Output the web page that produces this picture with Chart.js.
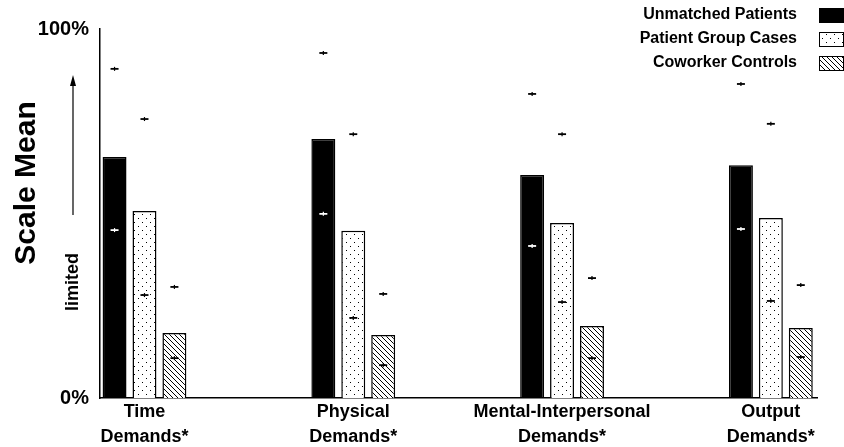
<!DOCTYPE html>
<html>
<head>
<meta charset="utf-8">
<title>Scale Mean by demand type</title>
<script src="https://cdn.jsdelivr.net/npm/chart.js@4.4.1/dist/chart.umd.min.js"></script>
<style>
  html, body { margin: 0; padding: 0; background: #fff; }
  #chart { display: block; }
</style>
</head>
<body>
<canvas id="chart" width="844" height="447"></canvas>
<script>
// categories (two lines each) and the series shown in the legend
const categories = [
  ['Time', 'Demands*'],
  ['Physical', 'Demands*'],
  ['Mental-Interpersonal', 'Demands*'],
  ['Output', 'Demands*']
];
const seriesNames = ['Unmatched Patients', 'Patient Group Cases', 'Coworker Controls'];

// bar heights (% of scale)
const unmatched = [65.3, 70.2, 60.4, 63.1];
const groupCases = [50.7, 45.3, 47.4, 48.8];
const controls = [17.6, 17.1, 19.5, 19.0];

// small marks above / below each bar
const unmatchedHigh = [89.2, 93.5, 82.4, 85.1];
const unmatchedLow = [45.5, 49.9, 41.2, 45.8];
const casesHigh = [75.6, 71.5, 71.5, 74.3];
const casesLow = [27.9, 21.7, 26.0, 26.3];
const controlsHigh = [30.1, 28.2, 32.5, 30.6];
const controlsLow = [10.8, 8.9, 10.8, 11.1];

const yTicks = [0, 100];

const FONT = '"Liberation Sans", Arial, Helvetica, sans-serif';
Chart.defaults.font.family = FONT;
Chart.defaults.color = '#000';

// fill patterns
function dotPattern() {
  const c = document.createElement('canvas');
  c.width = 8; c.height = 8;
  const g = c.getContext('2d');
  g.fillStyle = '#fff';
  g.fillRect(0, 0, 8, 8);
  g.fillStyle = '#000';
  g.fillRect(2, 2, 1, 1);
  g.fillRect(6, 6, 1, 1);
  return g.createPattern(c, 'repeat');
}

function hatchPattern() {
  const c = document.createElement('canvas');
  c.width = 5; c.height = 5;
  const g = c.getContext('2d');
  g.fillStyle = '#fff';
  g.fillRect(0, 0, 5, 5);
  g.strokeStyle = '#000';
  g.lineWidth = 1;
  g.beginPath();
  g.moveTo(-1, -1); g.lineTo(6, 6);
  g.moveTo(-1, 4); g.lineTo(1, 6);
  g.moveTo(4, -1); g.lineTo(6, 1);
  g.stroke();
  return g.createPattern(c, 'repeat');
}

const toPoints = arr => arr.map((v, i) => ({ x: i, y: v }));

// draws the little "+" marks at each bar's x position
const errorMarks = {
  id: 'errorMarks',
  afterDatasetsDraw(chart) {
    const ctx = chart.ctx;
    const yScale = chart.scales.y;
    chart.data.datasets.forEach((ds, i) => {
      const meta = chart.getDatasetMeta(i);
      meta.data.forEach((bar, j) => {
        [ds.markHigh[j], ds.markLow[j]].forEach(v => {
          const y = yScale.getPixelForValue(v);
          const inside = v < ds.data[j].y;
          ctx.save();
          ctx.strokeStyle = inside ? ds.markInside : '#000';
          ctx.lineWidth = 1.8;
          ctx.beginPath();
          ctx.moveTo(bar.x - 4, y);
          ctx.lineTo(bar.x + 4, y);
          ctx.stroke();
          ctx.lineWidth = 1.2;
          ctx.beginPath();
          ctx.moveTo(bar.x, y - 2);
          ctx.lineTo(bar.x, y + 2);
          ctx.stroke();
          ctx.restore();
        });
      });
    });
  }
};

// legend on the top right: text then swatch
const sideLegend = {
  id: 'sideLegend',
  afterDraw(chart) {
    const ctx = chart.ctx;
    ctx.save();
    ctx.font = 'bold 16px ' + FONT;
    ctx.textAlign = 'right';
    ctx.textBaseline = 'middle';
    chart.data.datasets.forEach((ds, i) => {
      const y = 15 + i * 24;
      ctx.fillStyle = '#000';
      ctx.fillText(ds.label, 797, y);
      ctx.fillStyle = ds.backgroundColor;
      ctx.fillRect(819, y - 7, 25, 15);
      ctx.strokeStyle = '#000';
      ctx.lineWidth = 1;
      ctx.strokeRect(819.5, y - 6.5, 24, 14);
    });
    ctx.restore();
  }
};

// y axis title, arrow and "limited"
const yNotes = {
  id: 'yNotes',
  afterDraw(chart) {
    const ctx = chart.ctx;
    ctx.save();
    ctx.fillStyle = '#000';
    ctx.strokeStyle = '#000';
    ctx.textAlign = 'center';
    ctx.textBaseline = 'middle';

    ctx.save();
    ctx.translate(27, 183);
    ctx.rotate(-Math.PI / 2);
    ctx.font = 'bold 30px ' + FONT;
    ctx.fillText('Scale Mean', 0, 0);
    ctx.restore();

    ctx.save();
    ctx.translate(73, 282);
    ctx.rotate(-Math.PI / 2);
    ctx.font = 'bold 18px ' + FONT;
    ctx.fillText('limited', 0, 0);
    ctx.restore();

    ctx.lineWidth = 1.2;
    ctx.beginPath();
    ctx.moveTo(73, 215);
    ctx.lineTo(73, 84);
    ctx.stroke();
    ctx.beginPath();
    ctx.moveTo(73, 75);
    ctx.lineTo(70, 86);
    ctx.lineTo(76, 86);
    ctx.closePath();
    ctx.fill();
    ctx.restore();
  }
};

const fills = ['#000', dotPattern(), hatchPattern()];
const values = [unmatched, groupCases, controls];
const highs = [unmatchedHigh, casesHigh, controlsHigh];
const lows = [unmatchedLow, casesLow, controlsLow];
const insideColors = ['#fff', '#000', '#000'];

const datasets = seriesNames.map((name, i) => ({
  label: name,
  data: toPoints(values[i]),
  backgroundColor: fills[i],
  borderColor: '#000',
  borderWidth: 1.5,
  categoryPercentage: 0.43,
  barPercentage: 0.8,
  markHigh: highs[i],
  markLow: lows[i],
  markInside: insideColors[i]
}));

new Chart(document.getElementById('chart'), {
  type: 'bar',
  data: { datasets },
  options: {
    responsive: false,
    animation: false,
    devicePixelRatio: 1,
    layout: { padding: { top: 29, right: 27, left: 0, bottom: 0 } },
    plugins: {
      legend: { display: false },
      tooltip: { enabled: false }
    },
    scales: {
      x: {
        type: 'linear',
        offset: false,
        min: -0.213,
        max: 3.221,
        afterBuildTicks: axis => { axis.ticks = categories.map((c, i) => ({ value: i })); },
        afterFit: axis => { axis.height = 49; },
        ticks: {
          callback: v => categories[v],
          font: { size: 18, weight: 'bold', lineHeight: 1.42 },
          color: '#000',
          padding: 1,
          maxRotation: 0,
          autoSkip: false
        },
        grid: { display: false, drawTicks: false, offset: false },
        border: { color: '#000', width: 1.5 }
      },
      y: {
        min: 0,
        max: 100,
        afterBuildTicks: axis => { axis.ticks = yTicks.map(v => ({ value: v })); },
        afterFit: axis => { axis.width = 100; },
        ticks: {
          callback: v => v + '%',
          font: { size: 20, weight: 'bold' },
          color: '#000',
          padding: 11
        },
        grid: { display: false, drawTicks: false },
        border: { color: '#000', width: 1.5 }
      }
    }
  },
  plugins: [errorMarks, sideLegend, yNotes]
});
</script>
</body>
</html>
